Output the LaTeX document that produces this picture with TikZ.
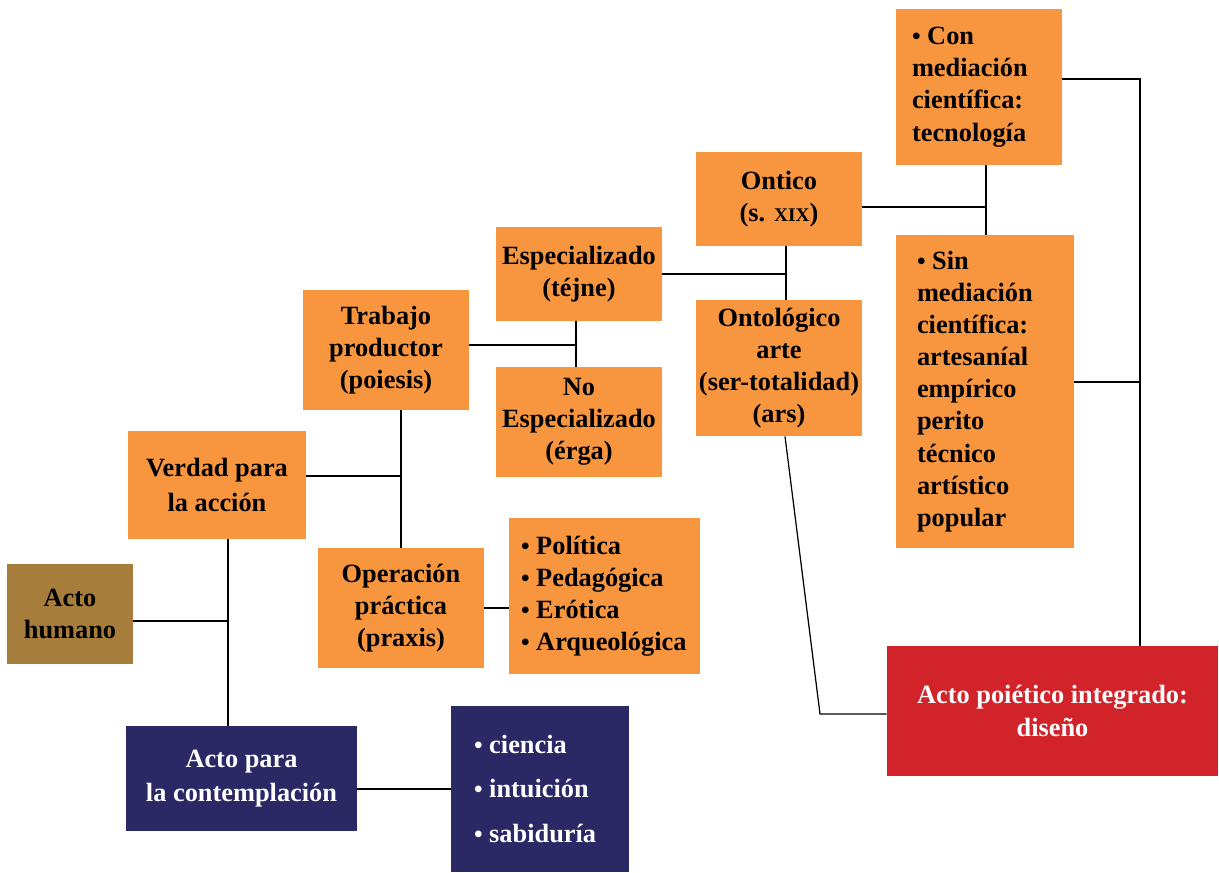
\documentclass[tikz,border=0pt]{standalone}
\usepackage{fontspec}
\setmainfont{Liberation Serif}
\usepackage{tikz}
\usetikzlibrary{positioning}

\definecolor{naranja}{HTML}{F7963F}
\definecolor{marron}{HTML}{A67D3A}
\definecolor{marino}{HTML}{2A2966}
\definecolor{rojo}{HTML}{D2232A}

\newcommand{\punto}{{\fontsize{14}{14}\selectfont•}\hspace{0.25em}}

\begin{document}
\begin{tikzpicture}[
    x=0.02cm, y=-0.02cm,
    box/.style={fill=naranja, inner sep=0pt, align=center, font=\fontsize{15}{18.3}\selectfont\bfseries},
    lista/.style={box, align=left},
    claro/.style={text=white},
    link/.style={draw, line width=0.7pt}
]
\useasboundingbox (0,0) rectangle (1219,872);

% Define node positions
\node[box, fill=marron, minimum width=2.52cm, minimum height=2cm] (humano) at (70,614) {Acto\\humano};
\node[box, minimum width=3.56cm, minimum height=2.16cm] (verdad) at (217,485) {Verdad para\\[1.5pt]la acción};
\node[box, minimum width=3.32cm, minimum height=2.4cm] (trabajo) at (386,350) {Trabajo\\productor\\(poiesis)};
\node[box, minimum width=3.32cm, minimum height=2.4cm] (praxis) at (401,608) {Operación\\práctica\\(praxis)};
\node[lista, minimum width=3.82cm, minimum height=3.12cm, text width=3.34cm] (politica) at (604.5,596) {\punto Política\\\punto Pedagógica\\\punto Erótica\\\punto Arqueológica};
\node[box, minimum width=3.32cm, minimum height=1.88cm] (tejne) at (579,274) {Especializado\\(téjne)};
\node[box, minimum width=3.32cm, minimum height=2.2cm] (erga) at (579,422) {No\\Especializado\\(érga)};
\node[box, minimum width=3.32cm, minimum height=1.88cm] (ontico) at (779,199) {Ontico\\(s. {\fontsize{11}{12}\selectfont XIX})};
\node[box, minimum width=3.32cm, minimum height=2.72cm] (ars) at (779,368) {Ontológico\\arte\\(ser-totalidad)\\(ars)};
\node[lista, minimum width=3.32cm, minimum height=3.12cm, text width=2.68cm] (con) at (979,87) {\punto Con\\mediación\\científica:\\tecnología};
\node[lista, minimum width=3.56cm, minimum height=6.26cm, text width=2.72cm] (sin) at (985,391.5) {\punto Sin\\mediación\\científica:\\artesaníal\\empírico\\perito\\técnico\\artístico\\popular};
\node[box, claro, fill=rojo, minimum width=6.62cm, minimum height=2.6cm] (diseno) at (1052.5,711) {Acto poiético integrado:\\diseño};
\node[box, claro, fill=marino, minimum width=4.62cm, minimum height=2.1cm] (contemplacion) at (241.5,778.5) {Acto para\\[1.5pt]la contemplación};
\node[lista, claro, fill=marino, minimum width=3.56cm, minimum height=3.32cm, text width=2.64cm] (ciencia) at (540,789) {\punto ciencia\\[7pt]\punto intuición\\[7pt]\punto sabiduría};

% Junctions
\coordinate (j1) at (228,621);
\coordinate (j2) at (401,476);
\coordinate (j3) at (576,345);
\coordinate (j4) at (786,274);
\coordinate (j5) at (986,207);
\coordinate (j6) at (1140,79);
\coordinate (j7) at (1140,382);
\coordinate (j8) at (820,714);

% Connectors
\draw[link] (humano.east |- j1) -- (j1);
\draw[link] (verdad.south -| j1) -- (contemplacion.north -| j1);
\draw[link] (contemplacion.east |- ciencia) -- (ciencia.west);
\draw[link] (verdad.east |- j2) -- (j2);
\draw[link] (trabajo.south -| j2) -- (praxis.north -| j2);
\draw[link] (praxis.east) -- (praxis.east -| politica.west);
\draw[link] (trabajo.east |- j3) -- (j3);
\draw[link] (tejne.south -| j3) -- (erga.north -| j3);
\draw[link] (tejne.east |- j4) -- (j4);
\draw[link] (ontico.south -| j4) -- (ars.north -| j4);
\draw[link] (ontico.east |- j5) -- (j5);
\draw[link] (con.south -| j5) -- (sin.north -| j5);
\draw[link] (con.east |- j6) -- (j6) -- (diseno.north -| j6);
\draw[link] (sin.east |- j7) -- (j7);
\draw[link] ([xshift=0.12cm]ars.south) -- (j8) -- (j8 -| diseno.west);

\end{tikzpicture}
\end{document}
